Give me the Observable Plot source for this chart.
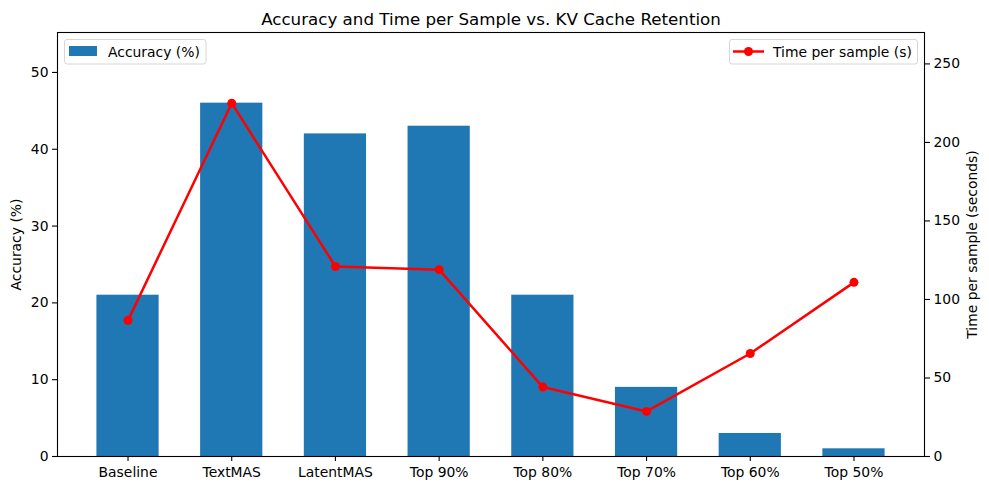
<!DOCTYPE html>
<html>
<head>
<meta charset="utf-8">
<script src="https://cdn.jsdelivr.net/npm/d3@7"></script>
<script src="https://cdn.jsdelivr.net/npm/@observablehq/plot@0.6"></script>
<style>
  html, body { margin: 0; padding: 0; background: #fff; }
  #chart { width: 989px; height: 490px; }
</style>
</head>
<body>
<div id="chart"></div>
<script>
const categories = ["Baseline", "TextMAS", "LatentMAS", "Top 90%", "Top 80%", "Top 70%", "Top 60%", "Top 50%"];
const accuracy = [21, 46, 42, 43, 21, 9, 3, 1];
const timePerSample = [86.7, 225, 121, 119, 44.2, 28.7, 65.6, 110.9];
const accTicks = [0, 10, 20, 30, 40, 50];
const timeTicks = [0, 50, 100, 150, 200, 250];
const accMax = 55.2;
const timeMax = 270;
const k = accMax / timeMax;

const data = categories.map((c, i) => ({cat: c, acc: accuracy[i], time: timePerSample[i]}));

const FONT = "DejaVu Sans, sans-serif";
const plot = Plot.plot({
  width: 989,
  height: 490,
  marginLeft: 57,
  marginRight: 65,
  marginTop: 32,
  marginBottom: 34,
  style: {fontFamily: FONT, fontSize: "13.9px", background: "#fff", color: "#000", overflow: "visible"},
  x: {type: "band", domain: categories, paddingInner: 0.4, paddingOuter: 0.38, align: 0.5, round: false},
  y: {domain: [0, accMax]},
  marks: [
    Plot.barY(data, {x: "cat", y: "acc", fill: "#1f77b4"}),
    Plot.lineY(data, {x: "cat", y: d => d.time * k, stroke: "red", strokeWidth: 2.5}),
    Plot.dot(data, {x: "cat", y: d => d.time * k, r: 4.5, fill: "red", stroke: "none"}),
    Plot.axisX({tickSize: 5, tickPadding: 6, label: null, strokeWidth: 1.1, fontSize: 13.9}),
    Plot.axisY(accTicks, {anchor: "left", tickSize: 5, tickPadding: 4, label: null, strokeWidth: 1.1, fontSize: 13.9}),
    Plot.axisY(timeTicks.map(t => t * k), {anchor: "right", tickSize: 5, tickPadding: 4, label: null, strokeWidth: 1.1, fontSize: 13.9, tickFormat: d => String(Math.round(d / k))}),
    Plot.frame({stroke: "black", strokeWidth: 1.1}),
    Plot.text(["Accuracy and Time per Sample vs. KV Cache Retention"], {frameAnchor: "top", dy: -8, lineAnchor: "bottom", fontSize: 16.7}),
    Plot.text(["Accuracy (%)"], {frameAnchor: "left", dx: -41, rotate: -90, textAnchor: "middle", fontSize: 13.9}),
    Plot.text(["Time per sample (seconds)"], {frameAnchor: "right", dx: 48, rotate: -90, textAnchor: "middle", fontSize: 13.9})
  ]
});
document.getElementById("chart").appendChild(plot);

// Legends (matplotlib style)
const svg = d3.select(plot);
const lg1 = svg.append("g").attr("font-family", FONT).attr("font-size", "13.9px").attr("text-anchor", "start");
lg1.append("rect").attr("x", 64.5).attr("y", 39.5).attr("width", 141.5).attr("height", 24.5).attr("rx", 2.5)
  .attr("fill", "white").attr("fill-opacity", 0.8).attr("stroke", "#d6d6d6").attr("stroke-width", 1);
lg1.append("rect").attr("x", 69).attr("y", 46).attr("width", 28).attr("height", 10).attr("fill", "#1f77b4");
lg1.append("text").attr("x", 108).attr("y", 56.5).attr("text-anchor", "start").text("Accuracy (%)");

const lg2 = svg.append("g").attr("font-family", FONT).attr("font-size", "13.9px").attr("text-anchor", "start");
lg2.append("rect").attr("x", 729.5).attr("y", 39.5).attr("width", 188).attr("height", 24.5).attr("rx", 2.5)
  .attr("fill", "white").attr("fill-opacity", 0.8).attr("stroke", "#d6d6d6").attr("stroke-width", 1);
lg2.append("line").attr("x1", 733).attr("x2", 764).attr("y1", 51.5).attr("y2", 51.5).attr("stroke", "red").attr("stroke-width", 2.5);
lg2.append("circle").attr("cx", 748.5).attr("cy", 51.5).attr("r", 4.5).attr("fill", "red");
lg2.append("text").attr("x", 773).attr("y", 56.5).attr("text-anchor", "start").text("Time per sample (s)");
</script>
</body>
</html>
